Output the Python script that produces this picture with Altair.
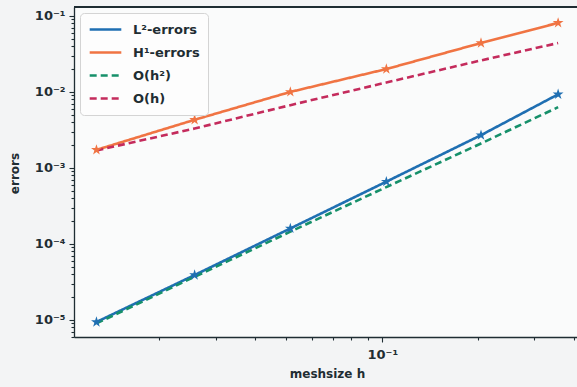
import altair as alt
import pandas as pd

# mesh sizes and measured errors
h = [0.0127, 0.0258, 0.0515, 0.103, 0.204, 0.356]
l2_err = [9.4e-6, 3.9e-5, 1.6e-4, 6.6e-4, 2.7e-3, 9.3e-3]
h1_err = [1.73e-3, 4.3e-3, 1.0e-2, 2.0e-2, 4.4e-2, 8.1e-2]
ref_h2 = [9.0e-6, 3.7e-5, 1.45e-4, 5.6e-4, 2.1e-3, 6.3e-3]
ref_h1 = [1.7e-3, 3.3e-3, 6.7e-3, 1.33e-2, 2.6e-2, 4.4e-2]

series = ["L²-errors", "H¹-errors", "O(h²)", "O(h)"]
colors = ["#1f6fb2", "#f07443", "#16906a", "#c42b5c"]
dashes = [[1, 0], [1, 0], [7, 4], [7, 4]]

rows = []
for name, vals in zip(series, [l2_err, h1_err, ref_h2, ref_h1]):
    for hv, v in zip(h, vals):
        rows.append({"h": hv, "err": v, "series": name})
df = pd.DataFrame(rows)

x_dom = [0.0108, 0.408]
y_dom = [5.97e-6, 0.131]

x_ticks = [m * 10.0 ** e for e in (-2, -1) for m in range(1, 10)
           if x_dom[0] <= m * 10.0 ** e <= x_dom[1]]
y_ticks = [m * 10.0 ** e for e in range(-6, 0) for m in range(1, 10)
           if y_dom[0] <= m * 10.0 ** e <= y_dom[1]]

is_major = "abs(log(datum.value)/LN10 - round(log(datum.value)/LN10)) < 1e-6"
label_expr = (
    f"({is_major}) ? '10⁻' + ['⁰','¹','²','³','⁴','⁵','⁶','⁷','⁸','⁹'][-round(log(datum.value)/LN10)] : ''"
)
tick_size = {"condition": {"test": is_major, "value": 5}, "value": 3}

FONT = "DejaVu Sans"
INK = "#1f2d33"

star = "M0,-1L0.2245,-0.309L0.951,-0.309L0.363,0.118L0.588,0.809L0,0.382L-0.588,0.809L-0.363,0.118L-0.951,-0.309L-0.2245,-0.309Z"

x_enc = alt.X(
    "h:Q",
    scale=alt.Scale(type="log", domain=x_dom, nice=False),
    axis=alt.Axis(
        title="meshsize h", values=x_ticks, labelExpr=label_expr,
        tickSize=tick_size, labelPadding=6, grid=False,
        titleX=253, titleY=36, titleBaseline="middle", titleAlign="center",
    ),
)
y_enc = alt.Y(
    "err:Q",
    scale=alt.Scale(type="log", domain=y_dom, nice=False),
    axis=alt.Axis(
        title="errors", values=y_ticks, labelExpr=label_expr,
        tickSize=tick_size, labelPadding=4, grid=False,
        titleX=-60, titleY=166, titleBaseline="middle", titleAlign="center",
    ),
)

base = alt.Chart(df)

lines = base.mark_line(strokeWidth=2.6).encode(
    x=x_enc,
    y=y_enc,
    color=alt.Color(
        "series:N",
        scale=alt.Scale(domain=series, range=colors),
        legend=alt.Legend(
            title=None, orient="none", legendX=6, legendY=6,
            symbolType="stroke", symbolSize=1000, symbolStrokeWidth=2.6,
            labelFontSize=13, labelFont=FONT, labelColor=INK, labelFontWeight="bold",
            fillColor="#fdfdfd", strokeColor="#d4d4d4", cornerRadius=4,
            padding=8, rowPadding=6, clipHeight=17, labelOffset=10,
        ),
    ),
    strokeDash=alt.StrokeDash(
        "series:N", scale=alt.Scale(domain=series, range=dashes), legend=None
    ),
    order=alt.Order("h:Q"),
)

star_layers = [
    base.transform_filter(alt.datum.series == name)
    .mark_point(shape=star, filled=True, size=130, opacity=1, color=col)
    .encode(x="h:Q", y="err:Q")
    for name, col in zip(series[:2], colors[:2])
]

top_spine = alt.Chart(df).mark_rule(color=INK, strokeWidth=1.2).encode(
    x=alt.value(0), x2=alt.value(503), y=alt.value(0)
)

chart = (
    alt.layer(lines, *star_layers, top_spine)
    .properties(
        width=503, height=330,
        autosize=alt.AutoSizeParams(type="none"),
        padding={"left": 74, "top": 7, "right": 0, "bottom": 50},
        background="#f3f4f5",
    )
    .configure_view(stroke=None, fill="#fafbfb")
    .configure_axis(
        labelFont=FONT, labelFontSize=13, labelColor=INK, labelFontWeight="bold",
        titleFont=FONT, titleFontSize=12, titleFontWeight="bold", titleColor=INK,
        domainColor=INK, domainWidth=1.3, tickColor=INK, tickWidth=1.1,
    )
)

chart.save("out.html", embed_options={"renderer": "svg", "actions": False})
